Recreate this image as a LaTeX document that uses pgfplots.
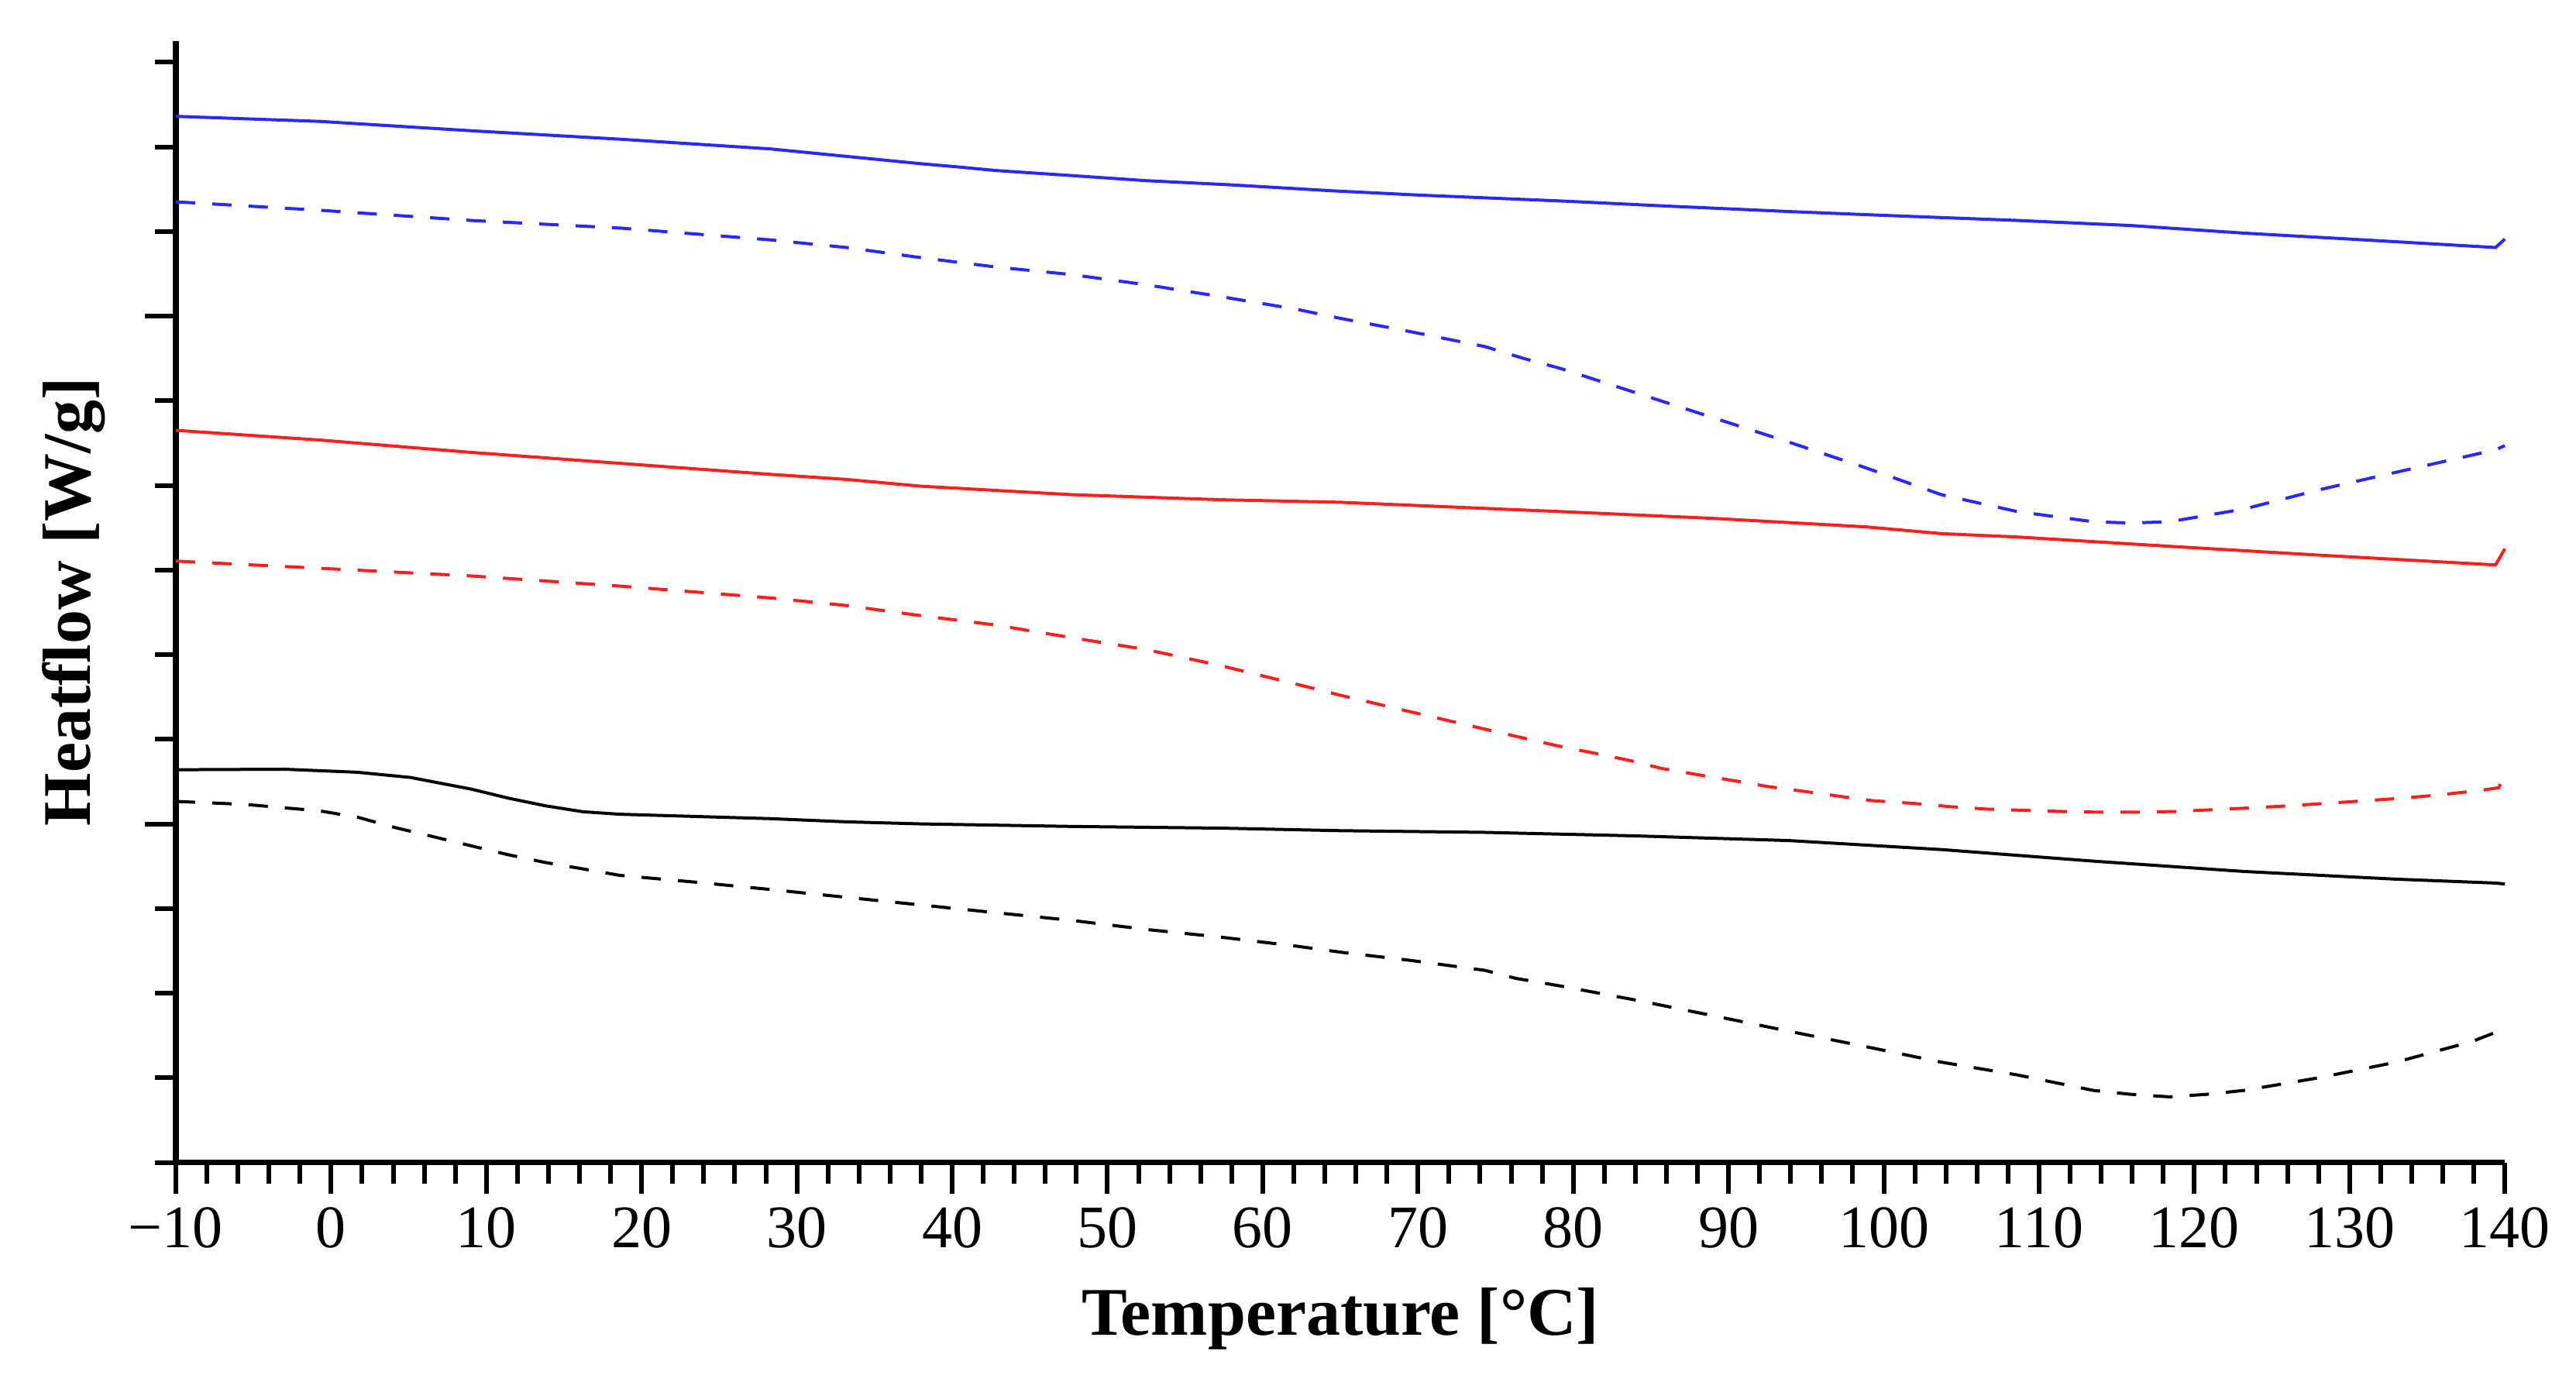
\documentclass[border=0pt]{standalone}
\usepackage{fontspec}
\setmainfont{Liberation Serif}
\usepackage{pgfplots}
\pgfplotsset{compat=1.18}
\definecolor{cblue}{RGB}{40,40,255}
\definecolor{cred}{RGB}{255,30,30}
\begin{document}
\begin{tikzpicture}
\begin{axis}[
  scale only axis, width=300.7pt, height=144.8pt,
  xmin=-10, xmax=140, ymin=-4, ymax=9.25,
  axis x line=bottom, axis y line=left,
  axis line style={-, line width=0.75pt, black},
  tick align=outside,
  xtick={-10,0,...,140},
  xticklabels={−10,0,10,20,30,40,50,60,70,80,90,100,110,120,130,140},
  minor xtick={-8,-6,...,138},
  ytick={0,6}, yticklabels={},
  minor ytick={-4,-3,...,9},
  major tick length=4pt, minor tick length=2.7pt,
  every tick/.style={line width=0.6pt, black},
  tick label style={font=\fontsize{7.8}{9}\selectfont},
  xticklabel style={anchor=base, yshift=-7.0pt},
  xlabel={Temperature [°C]}, ylabel={Heatflow [W/g]},
  label style={font=\fontsize{8.8}{10}\selectfont\bfseries},
  xlabel style={at={(axis description cs:0.5,-0.1395)}, anchor=center},
  ylabel style={at={(axis description cs:-0.0439,0.5)}, anchor=center},
  clip=false,
  every axis plot/.append style={line width=0.4pt},
]
\coordinate (sw) at (rel axis cs:0,0);
\coordinate (ne) at (rel axis cs:1,1);
% blue solid
\addplot[cblue] coordinates {
(-10,8.36) (-0.7,8.30) (9.0,8.19) (18.6,8.09) (28.3,7.975) (38.0,7.80) (40.5,7.76) (42.8,7.72) (47.7,7.66) (52.5,7.60) (58,7.55) (64.5,7.48) (70,7.43) (79.2,7.36) (86,7.30) (93.9,7.235) (100,7.19) (108.6,7.13) (115.9,7.07) (123.2,6.98) (130,6.91) (139.4,6.81) (140,6.91)};
% blue dashed
\addplot[cblue, dash pattern=on 2.5pt off 2.2pt] coordinates {
(-10,7.35) (-0.7,7.25) (9.0,7.13) (18.6,7.04) (28.3,6.90) (33.2,6.81) (38.0,6.69) (42.8,6.58) (47.7,6.49) (52.5,6.37) (57.3,6.23) (62.2,6.08) (64.8,5.98) (69.4,5.82) (74.3,5.64) (76.8,5.50) (79.2,5.38) (84.1,5.09) (89.0,4.80) (93.9,4.51) (98.8,4.21) (103.7,3.89) (108.6,3.69) (113.5,3.57) (115.9,3.555) (118.4,3.57) (123.2,3.72) (128.1,3.95) (133.0,4.155) (139.4,4.42) (140,4.47)};
% red solid
\addplot[cred] coordinates {
(-10,4.65) (-0.7,4.535) (9.0,4.39) (18.6,4.26) (28.3,4.13) (33.2,4.07) (38.0,3.99) (47.7,3.89) (57.3,3.83) (65,3.80) (79.2,3.69) (89.0,3.61) (98.8,3.51) (103.7,3.43) (108.6,3.39) (118.4,3.28) (128.1,3.175) (139.4,3.06) (140,3.25)};
% red dashed
\addplot[cred, dash pattern=on 2.5pt off 2.2pt] coordinates {
(-10,3.105) (-0.7,3.02) (9.0,2.93) (18.6,2.81) (28.3,2.67) (33.2,2.58) (38.0,2.46) (42.8,2.35) (47.7,2.20) (52.5,2.06) (57.3,1.87) (62.2,1.65) (65,1.52) (69.4,1.33) (74.3,1.12) (78.8,0.93) (81.3,0.838) (83.7,0.747) (85.7,0.655) (88.1,0.579) (90.6,0.503) (92.5,0.442) (95.0,0.381) (97.4,0.32) (99.3,0.274) (101.8,0.244) (104.2,0.205) (106.6,0.175) (109.1,0.16) (111.5,0.147) (114,0.138) (116.4,0.138) (118.8,0.147) (121.2,0.168) (123.7,0.19) (126.1,0.214) (128.6,0.244) (131.0,0.274) (133.5,0.305) (135.9,0.345) (138.4,0.396) (139.6,0.427) (140,0.579)};
% black solid
\addplot[black] coordinates {
(-10,0.64) (-3,0.646) (1.7,0.61) (5.1,0.549) (9.0,0.412) (11.4,0.305) (13.8,0.214) (16.2,0.144) (18.6,0.114) (28.3,0.062) (33.1,0.025) (38.0,0.0) (47.7,-0.03) (57.3,-0.05) (65,-0.08) (74.3,-0.10) (84.1,-0.142) (93.9,-0.197) (103.7,-0.303) (113.5,-0.44) (123.2,-0.562) (133.0,-0.653) (139.4,-0.699) (140,-0.71)};
% black dashed
\addplot[black, dash pattern=on 2.5pt off 2.2pt] coordinates {
(-10,0.266) (-5.5,0.23) (-0.7,0.153) (1.75,0.077) (4.16,-0.045) (6.58,-0.151) (9.0,-0.258) (11.4,-0.364) (13.8,-0.456) (16.2,-0.531) (18.6,-0.608) (23.5,-0.689) (28.3,-0.775) (33.1,-0.866) (38.0,-0.958) (42.8,-1.049) (47.7,-1.14) (52.5,-1.247) (57.3,-1.338) (62.2,-1.445) (65.2,-1.52) (69.4,-1.61) (74.3,-1.73) (76.3,-1.825) (79.2,-1.916) (84.1,-2.084) (89.0,-2.266) (93.9,-2.45) (98.8,-2.63) (103.7,-2.815) (108.6,-2.966) (113.5,-3.149) (115.9,-3.195) (118.4,-3.225) (120.8,-3.195) (123.2,-3.149) (128.1,-2.997) (133.0,-2.815) (137.9,-2.57) (140,-2.42)};
\end{axis}
\useasboundingbox ([xshift=-22.7pt,yshift=-28.3pt]sw) rectangle ([xshift=9.1pt,yshift=5.3pt]ne);
\end{tikzpicture}
\end{document}
